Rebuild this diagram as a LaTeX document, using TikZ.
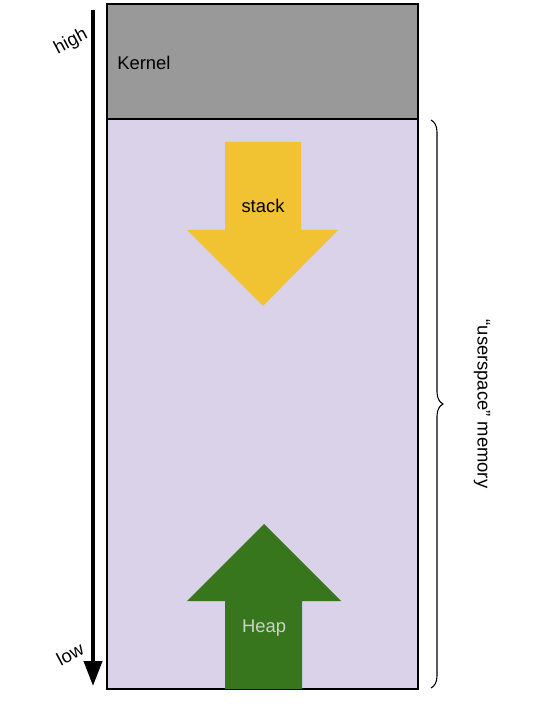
\documentclass[tikz,border=0pt]{standalone}
\usepackage{fontspec}
\setmainfont{Liberation Sans}
\usetikzlibrary{arrows.meta,decorations.pathreplacing}
\definecolor{kernelgray}{RGB}{153,153,153}
\definecolor{userlavender}{RGB}{217,210,233}
\definecolor{stackyellow}{RGB}{241,194,50}
\definecolor{heapgreen}{RGB}{56,118,29}
\definecolor{heaptext}{RGB}{204,210,200}

\begin{document}
\begin{tikzpicture}[x=0.75pt,y=-0.75pt,font=\fontsize{13.8}{16}\selectfont,
    region/.style={draw, line width=0.9pt},
    growarrow/.style={draw=none},
    axislabel/.style={rotate=28, inner sep=0pt}]
        \useasboundingbox (0,0) rectangle (533,716);

        % memory regions
        \draw[region, fill=userlavender] (107,119) rectangle (418,689);
        \draw[region, fill=kernelgray] (107,4) rectangle (418,119);
        \node[anchor=west, inner sep=0pt] (kernel) at (117,63) {Kernel};

        % stack grows down
        \fill[growarrow, stackyellow] (225,142) -- (301,142) -- (301,230) -- (338,230)
            -- (263,306) -- (187,230) -- (225,230) -- cycle;
        \node (stack) at (263,206) {stack};

        % heap grows up
        \fill[growarrow, heapgreen] (225,689) -- (302,689) -- (302,601) -- (341,601)
            -- (264,524) -- (187,601) -- (225,601) -- cycle;
        \node[text=heaptext] (heap) at (264,628) {Heap};

        % address axis
        \coordinate (high) at (93,10);
        \coordinate (low) at (93,686);
        \draw[line width=3pt, -{Triangle[length=18.75pt,width=13.5pt]}] (high) -- (low);
        \node[axislabel] (highlabel) at (71,42) {high};
        \node[axislabel] (lowlabel) at (70,654) {low};

        % userspace brace
        \coordinate (usertop) at (431,120);
        \coordinate (userbottom) at (431,688);
        \draw[line width=0.8pt, decorate, decoration={brace, amplitude=9pt}] (usertop) -- (userbottom);
        \node[rotate=-90] (userspace) at (482,404) {“userspace” memory};
    \end{tikzpicture}
\end{document}
